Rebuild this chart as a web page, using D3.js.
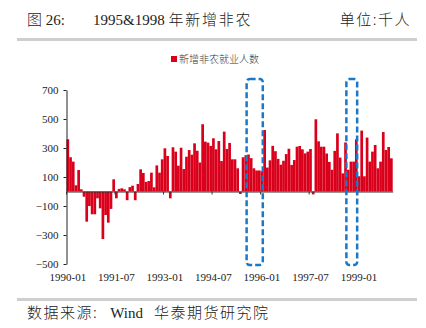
<!DOCTYPE html>
<html>
<head>
<meta charset="utf-8">
<script src="https://cdn.jsdelivr.net/npm/d3@7"></script>
<style>
  body { margin: 0; background: #fff; }
  .serif { font-family: "Liberation Serif", "Times New Roman", serif; }
  .cjk { font-family: "Noto Sans CJK SC", sans-serif; font-weight: 300; }
</style>
</head>
<body>
<svg width="426" height="328"></svg>
<script>
// monthly categories, 1990-01 .. 2000-01
const months = [];
for (let yr = 1990; yr <= 2000; yr++)
  for (let m = 1; m <= 12; m++) months.push(yr + "-" + String(m).padStart(2, "0"));
months.length = 121;

// new nonfarm payrolls, thousands
const newJobs = [
  360, 236, 206, 43, 148, 15, -36, -208, -100, -157, -157, -47,
  -116, -328, -162, -215, -120, 84, -47, 18, 22, 15, -60, 30,
  40, -60, 52, 153, 128, 66, 72, 130, 29, 180, 130, 222,
  298, 245, -47, 305, 275, 178, 302, 155, 240, 286, 254, 332,
  281, 200, 464, 344, 337, 314, 367, 291, 348, 210, 413, 293,
  335, 222, 222, 160, -17, 236, 250, 255, 230, 160, 145, 145,
  140, 424, 165, 215, 315, 278, 225, 185, 212, 258, 295, 183,
  217, 309, 314, 291, 263, 275, 293, -20, 498, 346, 309, 309,
  262, 204, 150, 280, 401, 234, 125, 338, 150, 206, 206, 360,
  105, 420, 105, 372, 206, 275, 321, 160, 206, 410, 286, 307,
  229
];

const xLabels = ["1990-01", "1991-07", "1993-01", "1994-07", "1996-01", "1997-07", "1999-01"];
const yTicks = [-500, -300, -100, 100, 300, 500, 700];
// dashed boxes: first and last month covered
const highlights = [["1995-08", "1996-01"], ["1998-09", "1998-12"]];

const svg = d3.select("svg");
const plot = { left: 66.5, right: 392.7, top: 90, bottom: 264 };

const x = d3.scaleBand()
  .domain(months)
  .range([plot.left, plot.right])
  .paddingInner(0)
  .paddingOuter(0);
const step = x.step();

const y = d3.scaleLinear()
  .domain([-500, 700])
  .range([plot.bottom, plot.top]);

// title row
svg.append("text").attr("x", 27).attr("y", 25)
  .attr("font-size", 15).attr("fill", "#222")
  .html('<tspan class="cjk">图</tspan><tspan class="serif"> 26:</tspan>');
svg.append("text").attr("x", 93).attr("y", 25)
  .attr("font-size", 15).attr("fill", "#222")
  .html('<tspan class="serif">1995&amp;1998 </tspan><tspan class="cjk" letter-spacing="1.8">年新增非农</tspan>');
svg.append("text").attr("x", 411).attr("y", 25)
  .attr("font-size", 15).attr("fill", "#222").attr("text-anchor", "end")
  .attr("class", "cjk").attr("letter-spacing", 1.5).text("单位:千人");

svg.append("rect").attr("x", 17).attr("y", 38).attr("width", 400).attr("height", 3).attr("fill", "#cfcfcf");
svg.append("rect").attr("x", 17).attr("y", 298).attr("width", 400).attr("height", 3).attr("fill", "#cfcfcf");

// legend
svg.append("rect").attr("x", 171).attr("y", 56).attr("width", 6).attr("height", 6).attr("fill", "#d9001b");
svg.append("text").attr("x", 179).attr("y", 63)
  .attr("class", "cjk").attr("font-size", 10).attr("fill", "#333")
  .text("新增非农就业人数");

// bars
svg.append("g")
  .selectAll("rect")
  .data(newJobs)
  .join("rect")
  .attr("x", (d, i) => x(months[i]))
  .attr("width", x.bandwidth())
  .attr("y", d => y(Math.max(0, d)))
  .attr("height", d => Math.abs(y(d) - y(0)))
  .attr("fill", "#d9001b");

// y axis
const yAxis = svg.append("g")
  .attr("transform", `translate(${plot.left},0)`)
  .call(d3.axisLeft(y).tickValues(yTicks).tickSize(3).tickSizeOuter(0).tickPadding(5));
yAxis.selectAll("text").attr("class", "serif").attr("font-size", 11).attr("fill", "#222");
yAxis.selectAll("line, path").attr("stroke", "#222");

// zero line with ticks at band starts
const zeroAxis = svg.append("g")
  .attr("transform", `translate(0,${y(0)})`)
  .call(d3.axisBottom(x).tickValues(xLabels).tickSize(3).tickSizeOuter(0).tickFormat(""));
zeroAxis.select(".domain").attr("stroke", "#333");
zeroAxis.selectAll(".tick line").attr("stroke", "#333").attr("transform", `translate(${-step / 2},0)`);

// x labels along the bottom
const xAxis = svg.append("g")
  .attr("transform", `translate(0,${plot.bottom + 7})`)
  .call(d3.axisBottom(x).tickValues(xLabels).tickSize(0).tickPadding(2));
xAxis.select(".domain").remove();
xAxis.selectAll("text").attr("class", "serif").attr("font-size", 11).attr("fill", "#222");

// dashed highlight boxes
svg.append("g")
  .selectAll("rect")
  .data(highlights)
  .join("rect")
  .attr("x", d => x(d[0]) - 0.5)
  .attr("width", d => x(d[1]) + step - x(d[0]))
  .attr("y", y(700) - 11)
  .attr("height", y(-500) - y(700) + 12)
  .attr("rx", 3)
  .attr("fill", "none")
  .attr("stroke", "#1a78c8")
  .attr("stroke-width", 2.5)
  .attr("stroke-dasharray", "6,3");

// source
svg.append("text").attr("x", 27).attr("y", 318)
  .attr("font-size", 15).attr("fill", "#222")
  .html('<tspan class="cjk" letter-spacing="1.5">数据来源:</tspan><tspan class="serif" dx="12">Wind</tspan><tspan class="cjk" dx="11" letter-spacing="1.5">华泰期货研究院</tspan>');
</script>
</body>
</html>
